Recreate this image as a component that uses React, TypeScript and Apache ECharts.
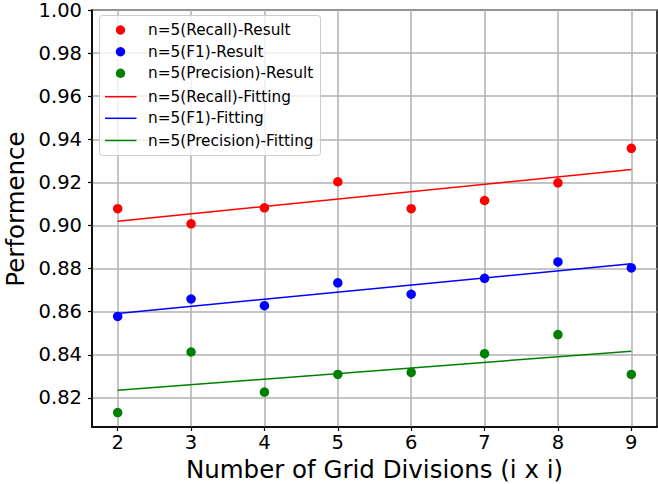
import React, { useEffect, useRef } from "react";
import * as echarts from "echarts";

const xValues = [2, 3, 4, 5, 6, 7, 8, 9];
const recallResult = [0.9078, 0.9008, 0.9082, 0.9203, 0.9078, 0.9116, 0.9198, 0.9358];
const f1Result = [0.8578, 0.8659, 0.8628, 0.8734, 0.8681, 0.8755, 0.8831, 0.8803];
const precisionResult = [0.8132, 0.8413, 0.8227, 0.8309, 0.8318, 0.8405, 0.8494, 0.8309];
const fitX = [2, 9];
const recallFit = [0.902, 0.926];
const f1Fit = [0.8592, 0.8822];
const precisionFit = [0.8235, 0.8417];
const xTicks = [2, 3, 4, 5, 6, 7, 8, 9];
const yTicks = [0.82, 0.84, 0.86, 0.88, 0.9, 0.92, 0.94, 0.96, 0.98, 1.0];

const legendItems = [
  { name: "n=5(Recall)-Result", color: "#ff0000", kind: "dot" },
  { name: "n=5(F1)-Result", color: "#0000ff", kind: "dot" },
  { name: "n=5(Precision)-Result", color: "#008000", kind: "dot" },
  { name: "n=5(Recall)-Fitting", color: "#ff0000", kind: "line" },
  { name: "n=5(F1)-Fitting", color: "#0000ff", kind: "line" },
  { name: "n=5(Precision)-Fitting", color: "#008000", kind: "line" },
];

const FONT = "DejaVu Sans";

export default function App() {
  const ref = useRef<HTMLDivElement>(null);
  useEffect(() => {
    if (!ref.current) return;
    const chart = echarts.init(ref.current, undefined, { renderer: "svg" });
    const pair = (xs: number[], ys: number[]) => xs.map((x, i) => [x, ys[i]]);
    const scatter = (name: string, ys: number[], color: string) => ({
      name,
      type: "scatter",
      data: pair(xValues, ys),
      symbol: "circle",
      symbolSize: 9.5,
      itemStyle: { color, opacity: 1 },
      z: 3,
    });
    const fit = (name: string, ys: number[], color: string) => ({
      name,
      type: "line",
      data: pair(fitX, ys),
      symbol: "none",
      lineStyle: { color, width: 1.5 },
      z: 2,
    });

    const legendGraphics: any[] = [
      {
        type: "rect",
        shape: { x: 99.5, y: 15.5, width: 221, height: 140, r: 3 },
        style: { fill: "rgba(255,255,255,0.8)", stroke: "#cccccc", lineWidth: 1 },
        z: 100,
      },
    ];
    const rowY = [30, 51.7, 73.3, 96.7, 118.3, 140.5];
    legendItems.forEach((it, i) => {
      const y = rowY[i];
      if (it.kind === "dot") {
        legendGraphics.push({
          type: "circle",
          shape: { cx: 120.5, cy: y, r: 4.7 },
          style: { fill: it.color },
          z: 101,
        });
      } else {
        legendGraphics.push({
          type: "line",
          shape: { x1: 105, y1: y, x2: 136.5, y2: y },
          style: { stroke: it.color, lineWidth: 1.5 },
          z: 101,
        });
      }
      legendGraphics.push({
        type: "text",
        x: 148,
        y,
        style: {
          text: it.name,
          fill: "#000000",
          font: `15.3px "${FONT}"`,
          verticalAlign: "middle",
          align: "left",
        },
        z: 101,
      });
    });

    chart.setOption({
      animation: false,
      backgroundColor: "#ffffff",
      textStyle: { fontFamily: FONT },
      grid: {
        left: 92,
        right: 1,
        top: 10,
        bottom: 57,
        show: true,
        borderColor: "#000000",
        borderWidth: 1.5,
        backgroundColor: "transparent",
        containLabel: false,
        outerBoundsMode: "none",
      },
      xAxis: {
        type: "value",
        min: 1.65,
        max: 9.35,
        name: "Number of Grid Divisions (i x i)",
        nameLocation: "middle",
        nameGap: 30,
        nameTextStyle: { fontSize: 24.5, color: "#000", fontFamily: FONT },
        axisLine: { show: true, onZero: false, lineStyle: { color: "#000", width: 1.5 } },
        axisTick: { show: true, customValues: xTicks, length: 4, lineStyle: { color: "#000", width: 1.2 } },
        axisLabel: {
          customValues: xTicks,
          fontSize: 19.5,
          color: "#000",
          margin: 5,
          fontFamily: FONT,
        },
        splitLine: { show: true, lineStyle: { color: "#b0b0b0", width: 1.5 } },
      },
      yAxis: {
        type: "value",
        min: 0.8065,
        max: 1.0,
        name: "Performence",
        nameLocation: "middle",
        nameGap: 60,
        nameRotate: 90,
        nameTextStyle: {
          fontSize: 24.5,
          color: "#000",
          fontFamily: FONT,
          padding: [0, 0, 0, 19],
        },
        axisLine: { show: true, onZero: false, lineStyle: { color: "#000", width: 1.5 } },
        axisTick: { show: true, customValues: yTicks, length: 4, lineStyle: { color: "#000", width: 1.2 } },
        axisLabel: {
          customValues: yTicks,
          fontSize: 19.5,
          color: "#000",
          margin: 10,
          fontFamily: FONT,
          formatter: (v: number) => v.toFixed(2),
        },
        splitLine: { show: true, lineStyle: { color: "#b0b0b0", width: 1.5 } },
      },
      series: [
        scatter("n=5(Recall)-Result", recallResult, "#ff0000"),
        scatter("n=5(F1)-Result", f1Result, "#0000ff"),
        scatter("n=5(Precision)-Result", precisionResult, "#008000"),
        fit("n=5(Recall)-Fitting", recallFit, "#ff0000"),
        fit("n=5(F1)-Fitting", f1Fit, "#0000ff"),
        fit("n=5(Precision)-Fitting", precisionFit, "#008000"),
      ],
      graphic: legendGraphics,
    });
    return () => chart.dispose();
  }, []);
  return (
    <div
      ref={ref}
      style={{ position: "absolute", left: 0, top: 0, width: 658, height: 484 }}
    />
  );
}
